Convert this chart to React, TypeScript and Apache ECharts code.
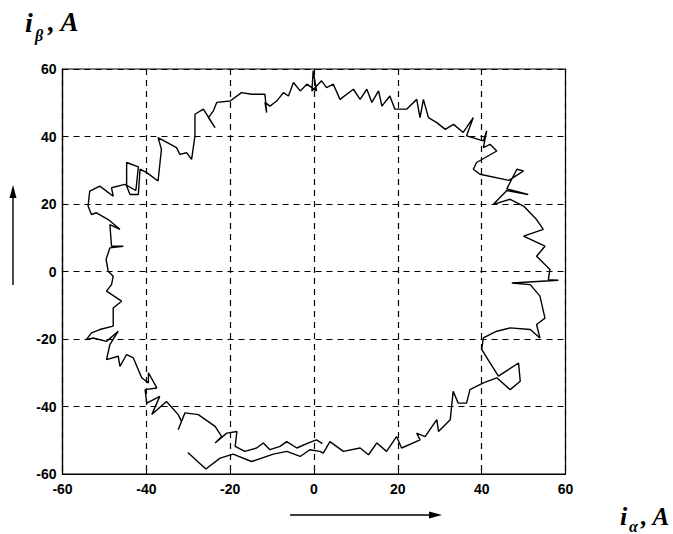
import React, { useEffect, useRef } from "react";
import * as echarts from "echarts";

// Current-vector trajectory (i_alpha, i_beta), in A in drawing order
const iAlpha: number[] = [
  -30.1, -25.8, -22.4, -19.3, -14.9, -9.7, -6.5, -3.3, -1.0, 1.4, 2.2, 3.8, 7.0, 11.0, 13.0, 15.0, 17.3, 19.7, 20.9, 25.3,
  24.5, 26.5, 29.3, 29.7, 32.5, 33.2, 34.4, 36.4, 37.2, 40.4, 43.6, 46.8, 49.2, 48.8, 44.0, 42.0, 40.0, 40.4, 43.6, 46.8,
  51.6, 53.9, 53.1, 55.1, 53.9, 51.6, 47.2, 58.3, 55.9, 56.3, 53.1, 55.1, 50.0, 54.7, 53.1, 50.0, 46.8, 42.8, 46.0, 51.1,
  46.0, 48.4, 50.0, 46.5, 39.6, 38.0, 38.8, 43.6, 42.0, 40.4, 41.2, 40.4, 36.4, 38.0, 35.6, 33.3, 31.3, 29.3, 27.3, 26.1,
  25.3, 24.5, 22.1, 19.3, 18.1, 16.2, 15.4, 13.8, 12.6, 11.0, 9.4, 6.2, 4.6, 3.0, 1.8, -0.5, -0.2, 0.6, -1.7, -3.3,
  -4.9, -6.1, -7.3, -8.9, -10.5, -11.7, -11.3, -11.7, -14.9, -17.3, -20.0, -23.2, -24.0, -25.2, -23.6, -26.4, -28.4, -28.4, -29.2, -30.4,
  -32.0, -32.8, -37.2, -36.4, -37.2, -39.9, -41.5, -41.9, -43.9, -44.7, -44.7, -41.9, -42.5, -45.1, -48.3, -47.9, -51.1, -53.5, -53.9, -53.1,
  -51.9, -49.1, -46.3, -48.7, -48.3, -45.5, -48.7, -49.6, -49.1, -47.9, -48.3, -49.5, -45.9, -47.9, -47.9, -51.1, -53.1, -54.3, -52.7, -49.5,
  -46.7, -48.7, -49.5, -46.7, -46.3, -44.7, -43.1, -41.1, -39.5, -39.5, -37.5, -40.3, -39.9, -36.8, -38.7, -35.2, -32.4, -31.6, -32.4, -30.8,
  -27.6, -23.6, -22.0, -23.6, -20.8, -18.4, -18.8, -16.5, -13.7, -12.1, -10.5, -8.1, -6.5, -4.1, -1.3, 0.6, 2.0,
];
const iBeta: number[] = [
  -53.6, -58.5, -55.3, -54.1, -56.3, -54.1, -53.3, -54.8, -52.8, -53.3, -53.8, -50.4, -53.3, -52.3, -54.3, -50.8, -53.3, -48.9, -52.3, -49.9,
  -47.9, -48.9, -43.9, -47.4, -43.9, -35.5, -39.0, -39.0, -35.0, -33.0, -31.5, -35.0, -32.5, -27.1, -31.0, -27.1, -23.1, -19.7, -17.7, -16.7,
  -17.2, -19.7, -15.7, -13.8, -7.3, -3.9, -3.4, -2.6, -2.4, 0.6, 4.5, 7.5, 10.5, 12.5, 15.4, 19.4, 21.4, 19.9, 24.0, 22.8,
  24.5, 30.3, 29.8, 27.0, 28.8, 30.3, 32.3, 35.7, 37.7, 36.7, 41.7, 38.7, 40.2, 45.6, 41.2, 43.6, 42.1, 44.1, 45.6, 51.0,
  45.6, 51.0, 48.1, 48.1, 52.0, 49.0, 53.5, 50.1, 54.0, 51.0, 54.0, 51.0, 55.5, 54.5, 56.5, 53.5, 59.5, 53.5, 55.5, 53.5,
  56.0, 52.0, 53.0, 50.5, 49.0, 50.1, 47.1, 52.5, 52.5, 53.0, 50.5, 50.1, 47.6, 45.6, 42.6, 48.1, 46.6, 40.2, 33.2, 35.2,
  34.7, 36.7, 39.7, 36.2, 26.8, 29.3, 30.3, 22.8, 22.8, 25.3, 32.3, 31.0, 24.0, 25.8, 24.8, 22.3, 25.3, 23.8, 19.4, 16.9,
  17.4, 15.4, 12.5, 13.9, 7.5, 7.5, 7.0, 3.6, 0.1, -1.4, -3.9, -5.8, -8.8, -10.8, -16.2, -17.2, -18.2, -20.2, -19.7, -20.7,
  -17.7, -21.7, -26.1, -25.1, -28.1, -24.6, -25.6, -31.5, -33.0, -30.0, -34.5, -35.0, -39.0, -37.0, -42.4, -38.5, -42.4, -44.4, -46.9, -41.9,
  -42.4, -45.9, -48.9, -50.8, -47.9, -47.4, -51.8, -53.3, -52.3, -50.8, -52.8, -51.8, -50.4, -52.3, -50.8, -49.9, -51.0,
];
const axisMin = -60;
const axisMax = 60;
const tickStep = 20;

export default function App() {
  const ref = useRef<HTMLDivElement>(null);
  useEffect(() => {
    if (!ref.current) return;
    const chart = echarts.init(ref.current, null, { renderer: "svg" });
    const data = iAlpha.map((x, i) => [x, iBeta[i]]);
    const tickFont = {
      color: "#000",
      fontFamily: "Liberation Sans, Arial, sans-serif",
      fontWeight: "bold" as const,
      fontSize: 14,
    };
    const serif = "Liberation Serif, Times New Roman, serif";
    chart.setOption({
      animation: false,
      backgroundColor: "#fff",
      grid: {
        left: 62.5,
        right: 107.5,
        top: 69,
        bottom: 60,
        show: true,
        borderColor: "#000",
        borderWidth: 1.2,
        backgroundColor: "transparent",
      },
      xAxis: {
        type: "value",
        min: axisMin,
        max: axisMax,
        interval: tickStep,
        axisLine: { show: true, onZero: false, lineStyle: { color: "#000", width: 1.2 } },
        axisTick: { show: true, inside: true, length: 5, lineStyle: { color: "#000" } },
        axisLabel: { ...tickFont, margin: 8 },
        splitLine: { show: true, lineStyle: { color: "#000", type: [6, 5], width: 1.2 } },
      },
      yAxis: {
        type: "value",
        min: axisMin,
        max: axisMax,
        interval: tickStep,
        axisLine: { show: true, onZero: false, lineStyle: { color: "#000", width: 1.2 } },
        axisTick: { show: true, inside: true, length: 5, lineStyle: { color: "#000" } },
        axisLabel: { ...tickFont, margin: 6 },
        splitLine: { show: true, lineStyle: { color: "#000", type: [6, 5], width: 1.2 } },
      },
      series: [
        {
          type: "line",
          data,
          showSymbol: false,
          symbol: "none",
          lineStyle: { color: "#000", width: 1.4 },
          z: 3,
        },
      ],
      graphic: [
        // i_beta, A (top-left)
        { type: "text", x: 25, y: 22, style: { text: "i", font: `italic bold 28px ${serif}`, fill: "#000", verticalAlign: "middle" } },
        { type: "text", x: 35, y: 35, style: { text: "β", font: `italic bold 16px ${serif}`, fill: "#000", verticalAlign: "middle" } },
        { type: "text", x: 48, y: 22, style: { text: ", A", font: `italic bold 27px ${serif}`, fill: "#000", verticalAlign: "middle" } },
        // i_alpha, A (bottom-right)
        { type: "text", x: 620, y: 516, style: { text: "i", font: `italic bold 26px ${serif}`, fill: "#000", verticalAlign: "middle" } },
        { type: "text", x: 629, y: 526, style: { text: "α", font: `italic bold 16px ${serif}`, fill: "#000", verticalAlign: "middle" } },
        { type: "text", x: 641, y: 516, style: { text: ", A", font: `italic bold 25px ${serif}`, fill: "#000", verticalAlign: "middle" } },
        // vertical arrow
        { type: "line", shape: { x1: 13, y1: 285, x2: 13, y2: 196 }, style: { stroke: "#000", lineWidth: 1.4 } },
        { type: "polygon", shape: { points: [[13, 185], [9.5, 198], [16.5, 198]] }, style: { fill: "#000" } },
        // horizontal arrow
        { type: "line", shape: { x1: 290, y1: 515, x2: 431, y2: 515 }, style: { stroke: "#000", lineWidth: 1.4 } },
        { type: "polygon", shape: { points: [[442, 515], [429, 511.5], [429, 518.5]] }, style: { fill: "#000" } },
      ],
    });
    return () => chart.dispose();
  }, []);
  return (
    <div
      ref={ref}
      style={{ position: "fixed", left: 0, top: 0, width: 673, height: 534, background: "#fff" }}
    />
  );
}
